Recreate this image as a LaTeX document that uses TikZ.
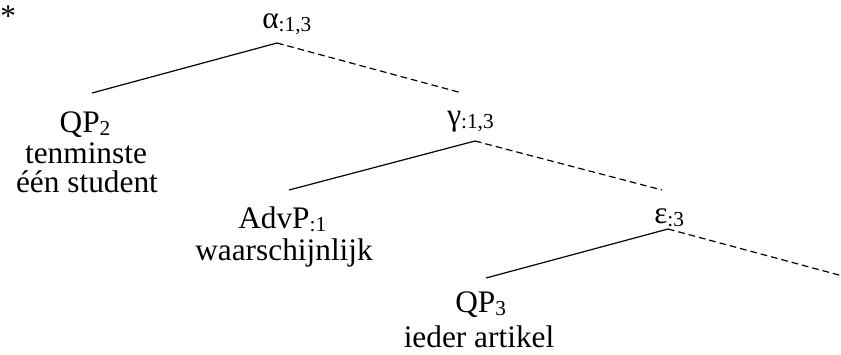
\documentclass[tikz,border=0pt]{standalone}
\usepackage{fontspec}
\setmainfont{Liberation Serif}
\newcommand{\lowsub}[1]{\raisebox{-0.12em}{\fontsize{16}{16}\selectfont #1}}
\begin{document}
\begin{tikzpicture}[x=0.75pt,y=-0.75pt,
  lbl/.style={inner sep=0pt,font=\fontsize{23.5}{28}\selectfont},
  branch/.style={line width=0.9pt},
  spine/.style={line width=0.9pt,dash pattern=on 5pt off 3pt}]
\useasboundingbox (0,0) rectangle (841,354);

% labels of the inner nodes
\node[lbl,anchor=base west] (star) at (0,26) {*};
\node[lbl,anchor=base west] (alpha) at (262,28) {α\lowsub{:1,3}};
\node[lbl,anchor=base west] (gamma) at (447,125) {γ\lowsub{:1,3}};
\node[lbl,anchor=base west] (eps) at (654,223) {ε\lowsub{:3}};

% leaves
\node[lbl,anchor=base] (qp2) at (85,132) {QP\lowsub{2}};
\node[lbl,anchor=base] (qp2a) at (86,163) {tenminste};
\node[lbl,anchor=base] (qp2b) at (87,192) {één student};
\node[lbl,anchor=base west] (advp) at (238,228) {AdvP\lowsub{:1}};
\node[lbl,anchor=base west] (advpa) at (195,260) {waarschijnlijk};
\node[lbl,anchor=base west] (qp3) at (455,312) {QP\lowsub{3}};
\node[lbl,anchor=base] (qp3a) at (479,347) {ieder artikel};

% branching points
\coordinate (alphaTop) at (277,43);
\coordinate (gammaTop) at (475,141);
\coordinate (epsTop) at (668,229);
\coordinate (qp2Top) at (92,93);
\coordinate (gammaIn) at (462,93);
\coordinate (advpTop) at (289,190);
\coordinate (epsIn) at (662,190);
\coordinate (qp3Top) at (486,278);
\coordinate (restIn) at (850,278);

\draw[branch] (alphaTop) -- (qp2Top);
\draw[spine] (alphaTop) -- (gammaIn);
\draw[branch] (gammaTop) -- (advpTop);
\draw[spine] (gammaTop) -- (epsIn);
\draw[branch] (epsTop) -- (qp3Top);
\draw[spine] (epsTop) -- (restIn);
\end{tikzpicture}
\end{document}
